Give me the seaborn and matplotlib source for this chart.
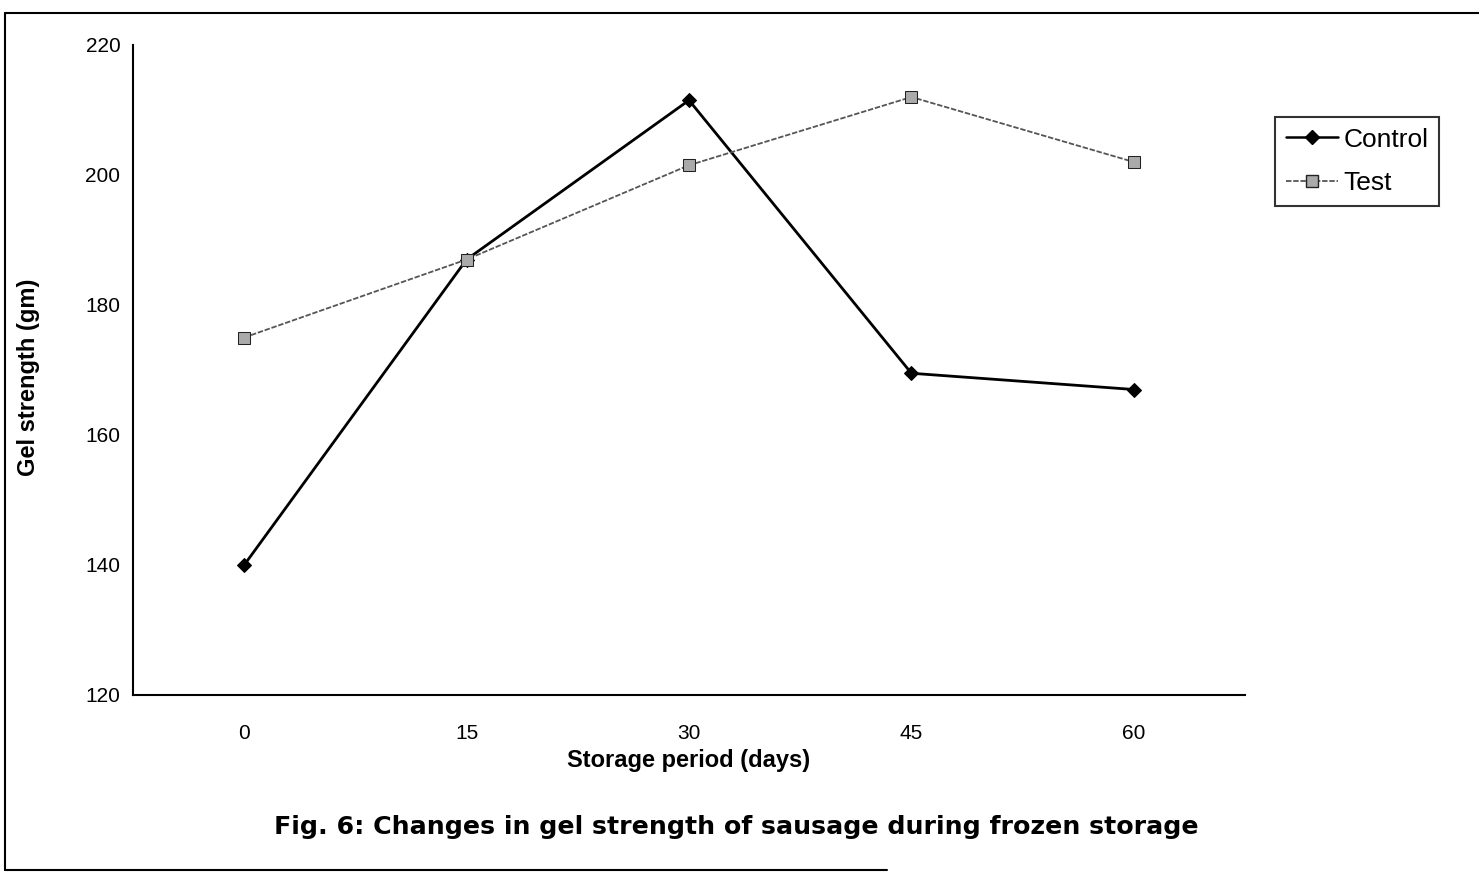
import matplotlib
matplotlib.use("Agg")
import matplotlib.pyplot as plt
import seaborn as sns
import pandas as pd
from matplotlib.lines import Line2D

days = ["0", "15", "30", "45", "60"]
control = [140, 187, 211.5, 169.5, 167]
test = [175, 187, 201.5, 212, 202]

df = pd.DataFrame({"days": days * 2,
                   "gel": control + test,
                   "series": ["Control"] * 5 + ["Test"] * 5})

sns.set_theme(style="white")
plt.rcParams['font.family'] = ['Liberation Sans', 'DejaVu Sans']
plt.rcParams['text.color'] = 'black'
plt.rcParams['axes.labelcolor'] = 'black'
plt.rcParams['xtick.color'] = 'black'
plt.rcParams['ytick.color'] = 'black'

fig = plt.figure(figsize=(14.79, 8.75), dpi=100)
ax = fig.add_axes([133/1479, 1-695/875, (1245-133)/1479, (695-45)/875])

sns.lineplot(data=df[df.series == "Control"], x="days", y="gel", ax=ax,
             color="black", lw=2.0, marker="D", markersize=7,
             markerfacecolor="black", markeredgecolor="black", sort=False)
sns.lineplot(data=df[df.series == "Test"], x="days", y="gel", ax=ax,
             color="#555555", lw=1.3, linestyle=(0, (3, 1)), marker="s", markersize=8,
             markerfacecolor="#aaaaaa", markeredgecolor="#222222", sort=False)

ax.set_xlim(-0.5, 4.5)
ax.set_ylim(120, 220)
ax.set_yticks([120, 140, 160, 180, 200, 220])
ax.tick_params(axis='y', direction='out', length=5, width=1.2, color='black',
               labelsize=15, pad=4, labelcolor='black')
ax.tick_params(axis='x', length=0, labelsize=15, pad=21, labelcolor='black')
for s in ["top", "right"]:
    ax.spines[s].set_visible(False)
for s in ["left", "bottom"]:
    ax.spines[s].set_color("black")
    ax.spines[s].set_linewidth(1.5)

ax.set_xlabel("Storage period (days)", fontsize=17, fontweight="bold", labelpad=4, color="black")
ax.set_ylabel("Gel strength (gm)", fontsize=17, fontweight="bold", labelpad=33, color="black")
ax.yaxis.label.set_y(0.488)

handles = [Line2D([], [], color="black", lw=1.8, marker="D", markersize=7),
           Line2D([], [], color="#555555", lw=1.3, linestyle=(0, (3, 1)), marker="s",
                  markersize=8, markerfacecolor="#aaaaaa", markeredgecolor="#222222")]
leg = fig.legend(handles, ["Control", "Test"], loc="upper left",
                 bbox_to_anchor=(1275/1479, 1-117/875), fontsize=19, frameon=True,
                 fancybox=False, handlelength=2.0, handletextpad=0.2, borderpad=0.4,
                 labelspacing=0.75, borderaxespad=0)
leg.get_frame().set_edgecolor("black")
leg.get_frame().set_linewidth(1.5)
for t in leg.get_texts():
    t.set_color("black")

fig.text(736/1479, 1-827/875, "Fig. 6: Changes in gel strength of sausage during frozen storage",
         ha="center", va="center", fontsize=18.2, fontweight="bold", color="black",
         family="DejaVu Sans")

# outer frame
fig.add_artist(Line2D([5/1479, 5/1479], [1-13/875, 1-870/875], color="black", lw=1.5, transform=fig.transFigure))
fig.add_artist(Line2D([5/1479, 1.0], [1-13/875, 1-13/875], color="black", lw=1.5, transform=fig.transFigure))
fig.add_artist(Line2D([5/1479, 0.6], [1-870/875, 1-870/875], color="black", lw=1.5, transform=fig.transFigure))

fig.savefig("out.png", dpi=100)
